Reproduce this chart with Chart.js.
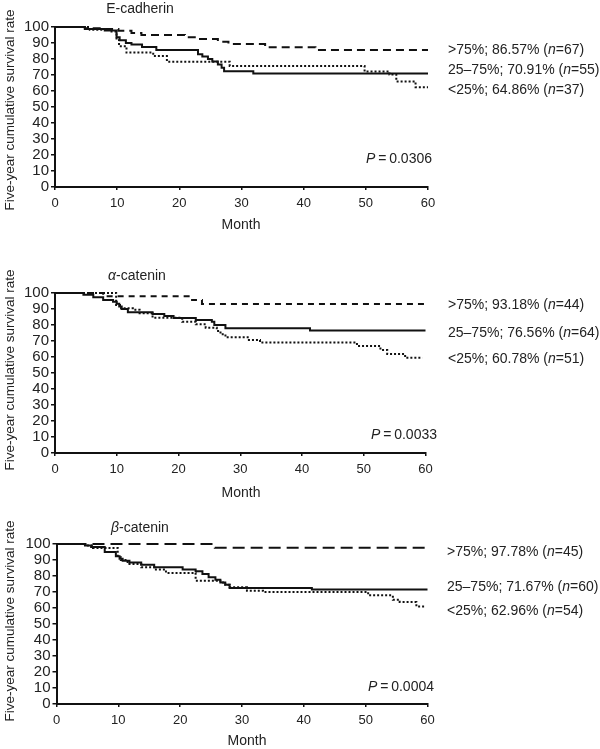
<!DOCTYPE html>
<html>
<head>
<meta charset="utf-8">
<script src="https://cdn.jsdelivr.net/npm/chart.js@4.4.1/dist/chart.umd.min.js"></script>
<style>
  body { margin: 0; background: #fff; width: 600px; height: 749px; position: relative; overflow: hidden;
         font-family: "Liberation Sans", Arial, sans-serif; color: #222; }
  canvas { position: absolute; left: 0; }
  .lbl { position: absolute; font-size: 14px; line-height: 1; white-space: nowrap; }
</style>
</head>
<body>
<canvas id="c1" width="600" height="240" style="top:0px"></canvas>
<canvas id="c2" width="600" height="240" style="top:266px"></canvas>
<canvas id="c3" width="600" height="240" style="top:517px"></canvas>
<script>
// tick labels
const xTicks = [0, 10, 20, 30, 40, 50, 60];
const yTicks = [0, 10, 20, 30, 40, 50, 60, 70, 80, 90, 100];

// E-cadherin (months, survival %)
const ecadHighT = [0, 4.8, 7.8, 10.2, 12.3, 13.9, 20.9, 22.8, 26.2, 27.9, 33.8, 41.9, 60];
const ecadHighS = [100, 99.2, 98.8, 97.7, 96.3, 95.0, 93.6, 92.5, 90.8, 89.3, 87.3, 85.6, 85.6];
const ecadMidT = [0, 4.8, 8, 9.9, 10.4, 11.4, 12.3, 14, 16.3, 23, 23.7, 24.6, 25.3, 26.2, 26.8, 27.2, 31.9, 60];
const ecadMidS = [100, 98.8, 97.8, 93.6, 91.7, 90.0, 89.0, 87.5, 85.6, 83.0, 81.5, 80.0, 78.5, 76.5, 74.5, 72.4, 70.9, 70.9];
const ecadLowT = [0, 5.6, 8.8, 9.9, 10.3, 11.5, 15.8, 18, 28.1, 49.8, 53.8, 54.9, 58, 60];
const ecadLowS = [100, 98.3, 97.2, 92, 88, 84, 81.8, 78.3, 75.7, 72.2, 70.3, 66, 62.4, 62.4];

// alpha-catenin
const acatHighT = [0, 7.8, 22.2, 23.8, 60];
const acatHighS = [100, 97.9, 95.6, 93.1, 93.1];
const acatMidT = [0, 4.6, 6.2, 7.8, 9.4, 10.0, 10.4, 10.8, 11.8, 15.8, 17.7, 19.2, 22.8, 25.4, 25.8, 27.6, 41.3, 60];
const acatMidS = [100, 98.9, 97.3, 95.6, 94.6, 93.3, 91.5, 90.0, 87.9, 86.9, 85.6, 84.4, 83.1, 82.1, 80.0, 78.0, 76.5, 76.5];
const acatLowT = [0, 9.9, 10.7, 12.6, 13.7, 15.8, 20.6, 22.8, 24.4, 26.2, 26.8, 27.6, 31.4, 33.2, 48.9, 52.7, 53.8, 56.7, 59.5];
const acatLowS = [100, 92.5, 90.4, 89.6, 87.3, 84.6, 82.0, 80.4, 78.3, 76.3, 74.2, 72.3, 70.6, 69.0, 66.9, 64.4, 61.9, 59.6, 59.6];

// beta-catenin
const bcatHighT = [0, 25.6, 60];
const bcatHighS = [100, 97.6, 97.6];
const bcatMidT = [0, 4.6, 5.6, 7.8, 9.6, 10.2, 10.7, 11.8, 13.7, 15.8, 20.4, 22.5, 23.6, 24.6, 25.7, 26.5, 27.3, 28.0, 41.3, 60];
const bcatMidS = [100, 99, 98.1, 95, 92.3, 90.8, 89.6, 88.5, 87.1, 85.4, 84, 82.9, 81.3, 79.2, 77.7, 76, 74.5, 72.5, 71.6, 71.6];
const bcatLowT = [0, 4.6, 5.9, 9.9, 10.4, 11.5, 13.7, 15.8, 17.7, 22.5, 26.5, 27.3, 28.0, 30.8, 33.4, 50.4, 54.4, 55.5, 58.2, 59.5];
const bcatLowS = [100, 99, 97.5, 91.7, 90, 87.5, 85.4, 84, 81.9, 77.1, 76, 74.5, 72.9, 70.8, 70, 67.9, 65.2, 63.8, 61, 61];

const ink = '#111';
const pts = (t, s) => t.map((v, i) => ({ x: v, y: s[i] }));

function makePanel(id, series, box) {
  const dashes = [box.dash, [], [2, 2]];
  new Chart(document.getElementById(id), {
    type: 'line',
    data: {
      datasets: series.map((d, i) => ({
        data: pts(d[0], d[1]),
        stepped: true,
        borderColor: ink,
        borderWidth: 2,
        borderDash: dashes[i],
        pointRadius: 0,
        fill: false,
        clip: false
      }))
    },
    options: {
      responsive: false,
      animation: false,
      layout: { padding: { left: 0, top: 27, right: 600 - box.right, bottom: 0 } },
      plugins: { legend: { display: false }, tooltip: { enabled: false } },
      scales: {
        x: {
          type: 'linear', min: 0, max: 60,
          afterBuildTicks: s => { s.ticks = xTicks.map(v => ({ value: v })); },
          afterFit: s => { s.height = 53; },
          border: { color: ink, width: 2 },
          grid: { drawOnChartArea: false, tickLength: 3, color: ink, lineWidth: 1.5 },
          ticks: { color: '#222', padding: 6, font: { family: 'Liberation Sans', size: 13 }, maxRotation: 0 }
        },
        y: {
          min: 0, max: 100,
          afterBuildTicks: s => { s.ticks = yTicks.map(v => ({ value: v })); },
          afterFit: s => { s.width = box.left; },
          border: { color: ink, width: 2 },
          grid: { drawOnChartArea: false, tickLength: 4, color: ink, lineWidth: 1.5 },
          ticks: { color: '#222', padding: 2, autoSkip: false, font: { family: 'Liberation Sans', size: 15, lineHeight: 1 } }
        }
      }
    }
  });
}

makePanel('c1', [[ecadHighT, ecadHighS], [ecadMidT, ecadMidS], [ecadLowT, ecadLowS]], { left: 55, right: 428, dash: [8, 5] });
makePanel('c2', [[acatHighT, acatHighS], [acatMidT, acatMidS], [acatLowT, acatLowS]], { left: 55, right: 425.5, dash: [6, 5] });
makePanel('c3', [[bcatHighT, bcatHighS], [bcatMidT, bcatMidS], [bcatLowT, bcatLowS]], { left: 56.5, right: 427.5, dash: [12, 6] });

// text labels
function addText(html, x, y, anchor, extra) {
  const el = document.createElement('div');
  el.className = 'lbl';
  el.innerHTML = html;
  el.style.left = x + 'px';
  el.style.top = y + 'px';
  const tx = anchor == 'left' ? '0' : anchor == 'right' ? '-100%' : '-50%';
  el.style.transform = 'translate(' + tx + ',-50%)' + (extra || '');
  document.body.appendChild(el);
  return el;
}
const yTitle = 'Five-year cumulative survival rate';
const panels = [
  { title: 'E-cadherin', tx: 140, ty: 8, yt: 110, month: 224, mx: 241, legX: 448, legY: [49, 69, 89], pX: 432, pY: 158, p: '0.0306',
    leg: ['&gt;75%; 86.57% (<i>n</i>=67)', '25–75%; 70.91% (<i>n</i>=55)', '&lt;25%; 64.86% (<i>n</i>=37)'] },
  { title: '<i>α</i>-catenin', tx: 137, ty: 275, yt: 370, month: 492, mx: 241, legX: 448, legY: [304, 332, 358], pX: 437, pY: 434, p: '0.0033',
    leg: ['&gt;75%; 93.18% (<i>n</i>=44)', '25–75%; 76.56% (<i>n</i>=64)', '&lt;25%; 60.78% (<i>n</i>=51)'] },
  { title: '<i>β</i>-catenin', tx: 140, ty: 527, yt: 621, month: 740, mx: 247, legX: 447, legY: [551, 586, 610], pX: 434, pY: 686, p: '0.0004',
    leg: ['&gt;75%; 97.78% (<i>n</i>=45)', '25–75%; 71.67% (<i>n</i>=60)', '&lt;25%; 62.96% (<i>n</i>=54)'] }
];
panels.forEach(p => {
  addText(p.title, p.tx, p.ty, 'center');
  const yt = addText(yTitle, 10, p.yt, 'center', ' rotate(-90deg)');
  yt.style.fontSize = '13.5px';
  addText('Month', p.mx, p.month, 'center');
  p.leg.forEach((t, i) => addText(t, p.legX, p.legY[i], 'left'));
  addText('<i>P</i>\u2009=\u2009' + p.p, p.pX, p.pY, 'right');
});
</script>
</body>
</html>
